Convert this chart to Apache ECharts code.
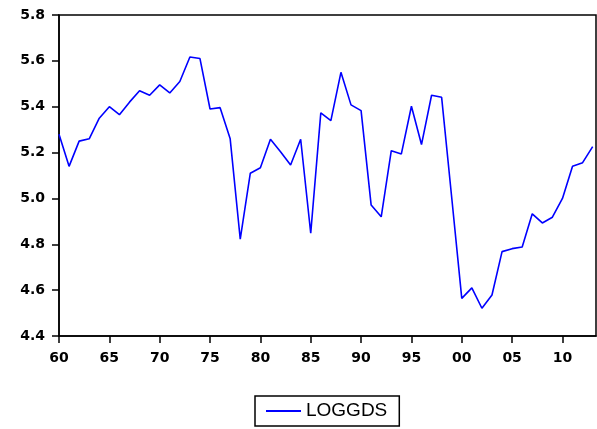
<!DOCTYPE html>
<html>
<head>
<meta charset="utf-8">
<script src="https://cdn.jsdelivr.net/npm/echarts@6/dist/echarts.min.js"></script>
<style>
html,body{margin:0;padding:0;background:#fff;}
#chart{width:597px;height:429px;}
</style>
</head>
<body>
<div id="chart"></div>
<script>
var years = [1960,1961,1962,1963,1964,1965,1966,1967,1968,1969,
             1970,1971,1972,1973,1974,1975,1976,1977,1978,1979,
             1980,1981,1982,1983,1984,1985,1986,1987,1988,1989,
             1990,1991,1992,1993,1994,1995,1996,1997,1998,1999,
             2000,2001,2002,2003,2004,2005,2006,2007,2008,2009,
             2010,2011,2012,2013];
var loggds = [5.28,5.14,5.25,5.26,5.35,5.40,5.365,5.42,5.47,5.45,
              5.495,5.46,5.51,5.617,5.61,5.39,5.396,5.26,4.822,5.11,
              5.134,5.258,5.204,5.146,5.258,4.848,5.373,5.339,5.55,5.408,
              5.383,4.971,4.92,5.208,5.194,5.402,5.235,5.45,5.441,5.004,
              4.564,4.61,4.521,4.579,4.768,4.781,4.788,4.933,4.893,4.918,
              5.0,5.14,5.156,5.226];
var xTicks = [1960,1965,1970,1975,1980,1985,1990,1995,2000,2005,2010];
var yTicks = [4.4,4.6,4.8,5.0,5.2,5.4,5.6,5.8];
var seriesName = 'LOGGDS';

var pts = years.map(function(y,i){return [y, loggds[i]];});
var chart = echarts.init(document.getElementById('chart'));
chart.setOption({
  animation:false,
  backgroundColor:'#fff',
  grid:{left:59, top:15, right:1, bottom:93, show:true, borderColor:'#000', borderWidth:1.5, containLabel:false},
  xAxis:{
    type:'value', min:1960, max:2013.33, interval:5,
    splitLine:{show:false},
    axisLine:{show:true, lineStyle:{color:'#000', width:1.5}},
    axisTick:{show:true, length:7, lineStyle:{color:'#000', width:1.5}, customValues:xTicks},
    axisLabel:{
      customValues:xTicks, margin:15,
      fontFamily:'DejaVu Sans', fontWeight:'bold', fontSize:14, color:'#000',
      formatter:function(v){var s=String(Math.round(v)%100);return s.length<2?'0'+s:s;}
    }
  },
  yAxis:{
    type:'value', min:4.4, max:5.8, interval:0.2,
    splitLine:{show:false},
    axisLine:{show:true, lineStyle:{color:'#000', width:1.5}},
    axisTick:{show:true, length:7, lineStyle:{color:'#000', width:1.5}, customValues:yTicks},
    axisLabel:{
      customValues:yTicks, margin:14,
      fontFamily:'DejaVu Sans', fontWeight:'bold', fontSize:14, color:'#000',
      formatter:function(v){return v.toFixed(1);}
    }
  },
  legend:{
    show:true, left:255, top:396, orient:'horizontal',
    padding:[5,12,5,11], borderColor:'#000', borderWidth:1.5,
    itemWidth:35, itemHeight:14, itemGap:8,
    textStyle:{fontFamily:'Liberation Sans', fontSize:19, color:'#000', lineHeight:20},
    data:[{name:seriesName, icon:'path://M0,6 L35,6 L35,8 L0,8 Z'}]
  },
  series:[{
    name:seriesName, type:'line', data:pts, symbol:'none', showSymbol:false,
    lineStyle:{color:'#0000ff', width:1.6}, itemStyle:{color:'#0000ff'}
  }]
});
</script>
</body>
</html>
